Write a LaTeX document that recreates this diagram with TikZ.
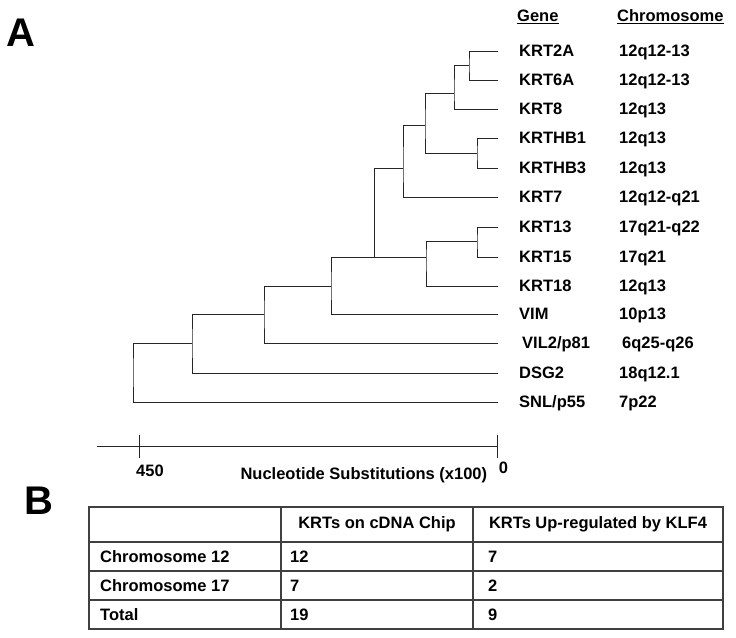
\documentclass[tikz,border=0pt]{standalone}
\usepackage{fontspec}
\setmainfont{Liberation Sans}
\usetikzlibrary{positioning}

\begin{document}
\begin{tikzpicture}[
  x=1pt, y=-1pt,
  font=\fontsize{16.5}{19}\selectfont\bfseries,
  branch/.style={draw=black!85, line width=1pt},
  gene/.style={anchor=west, inner sep=0pt, text height=11.8pt, text depth=0pt},
  chrom/.style={gene},
  panel/.style={font=\fontsize{40}{40}\selectfont\bfseries, inner sep=0pt},
  tabline/.style={draw=black!75, line width=1.2pt},
  cell/.style={inner sep=0pt, text height=11.8pt, text depth=0pt}
]
\useasboundingbox (0,0) rectangle (736,637);

% panel letters
\node[panel] (pa) at (21,33)     {A};
\node[panel] (pb) at (38.5,500.5) {B};

% column heads
\node[gene] (hgene)  at (517,15.5) {Gene};
\node[gene] (hchrom) at (617,15.5) {Chromosome};
\draw[line width=1pt] ([yshift=-1.8pt]hgene.south west)  -- ([yshift=-1.8pt]hgene.south east);
\draw[line width=1pt] ([yshift=-1.8pt]hchrom.south west) -- ([yshift=-1.8pt]hchrom.south east);

% leaf tips
\coordinate (t2a)  at (498,51);
\coordinate (t6a)  at (498,80);
\coordinate (t8)   at (498,109);
\coordinate (tb1)  at (498,138);
\coordinate (tb3)  at (498,168);
\coordinate (t7)   at (498,197);
\coordinate (t13)  at (498,227);
\coordinate (t15)  at (498,257);
\coordinate (t18)  at (498,286);
\coordinate (tvim) at (498,314);
\coordinate (tvil) at (498,343);
\coordinate (tdsg) at (498,373);
\coordinate (tsnl) at (498,402);

% gene names
\node[gene, right=21pt of t2a]  (g2a)  {KRT2A};
\node[gene, right=21pt of t6a]  (g6a)  {KRT6A};
\node[gene, right=21pt of t8]   (g8)   {KRT8};
\node[gene, right=21pt of tb1]  (gb1)  {KRTHB1};
\node[gene, right=21pt of tb3]  (gb3)  {KRTHB3};
\node[gene, right=21pt of t7]   (g7)   {KRT7};
\node[gene, right=21pt of t13]  (g13)  {KRT13};
\node[gene, right=21pt of t15]  (g15)  {KRT15};
\node[gene, right=21pt of t18]  (g18)  {KRT18};
\node[gene, right=21pt of tvim] (gvim) {VIM};
\node[gene, right=24pt of tvil] (gvil) {VIL2/p81};
\node[gene, right=21pt of tdsg] (gdsg) {DSG2};
\node[gene, right=21pt of tsnl] (gsnl) {SNL/p55};

% chromosome locations
\node[chrom] (c2a)  at (619,51)  {12q12-13};
\node[chrom] (c6a)  at (619,80)  {12q12-13};
\node[chrom] (c8)   at (619,109) {12q13};
\node[chrom] (cb1)  at (619,138) {12q13};
\node[chrom] (cb3)  at (619,168) {12q13};
\node[chrom] (c7)   at (619,197) {12q12-q21};
\node[chrom] (c13)  at (619,227) {17q21-q22};
\node[chrom] (c15)  at (619,257) {17q21};
\node[chrom] (c18)  at (619,286) {12q13};
\node[chrom] (cvim) at (619,314) {10p13};
\node[chrom] (cvil) at (622,343) {6q25-q26};
\node[chrom] (cdsg) at (619,373) {18q12.1};
\node[chrom] (csnl) at (619,402) {7p22};

% inner nodes of the tree
\coordinate (n1)   at (469,65);
\coordinate (n2)   at (454,93);
\coordinate (n3)   at (477,153);
\coordinate (n4)   at (425,125);
\coordinate (n5)   at (403,168);
\coordinate (n6)   at (477,241);
\coordinate (n7)   at (426,257);
\coordinate (n8)   at (374,257);
\coordinate (n9)   at (331,286);
\coordinate (n10)  at (264,314);
\coordinate (n11)  at (192,343);
\coordinate (root) at (133,372);

\draw[branch] (t2a) -| (n1) |- (t6a);
\draw[branch] (n1) -| (n2) |- (t8);
\draw[branch] (tb1) -| (n3) |- (tb3);
\draw[branch] (n2) -| (n4) |- (n3);
\draw[branch] (n4) -| (n5) |- (t7);
\draw[branch] (t13) -| (n6) |- (t15);
\draw[branch] (n6) -| (n7) |- (t18);
\draw[branch] (n5) -| (n8) |- (n7);
\draw[branch] (n8) -| (n9) |- (tvim);
\draw[branch] (n9) -| (n10) |- (tvil);
\draw[branch] (n10) -| (n11) |- (tdsg);
\draw[branch] (n11) -| (root) |- (tsnl);

% scale bar
\coordinate (sl)   at (97,446);
\coordinate (sr)   at (497,446);
\coordinate (k450) at (139,446);
\draw[branch] (sl) -- (sr);
\draw[branch] ([yshift=11pt]k450) -- ([yshift=-12pt]k450);
\draw[branch] ([yshift=11pt]sr) -- ([yshift=-12pt]sr);
\node[anchor=base]      (l450) at (150,476)   {450};
\node[anchor=base]      (l0)   at (503.5,473) {0};
\node[anchor=base west] (axis) at (237,479)   {Nucleotide Substitutions (x100)};

% table
\coordinate (tl) at (89,507);
\coordinate (br) at (723,629);
\draw[tabline] (tl) rectangle (br);
\foreach \y in {542,571,600} \draw[tabline] (89,\y) -- (723,\y);
\foreach \x in {281,473} \draw[tabline] (\x,507) -- (\x,629);

\node[cell] (h2) at (377,523) {KRTs on cDNA Chip};
\node[cell] (h3) at (598,523) {KRTs Up-regulated by KLF4};
\node[cell, anchor=west] (r12)  at (100,557) {Chromosome 12};
\node[cell, anchor=west] (r17)  at (100,586) {Chromosome 17};
\node[cell, anchor=west] (rtot) at (100,615) {Total};
\node[cell, anchor=west] (v12a) at (290,557) {12};
\node[cell, anchor=west] (v12b) at (488,557) {7};
\node[cell, anchor=west] (v17a) at (290,586) {7};
\node[cell, anchor=west] (v17b) at (488,586) {2};
\node[cell, anchor=west] (vtota) at (290,615) {19};
\node[cell, anchor=west] (vtotb) at (488,615) {9};
\end{tikzpicture}
\end{document}
